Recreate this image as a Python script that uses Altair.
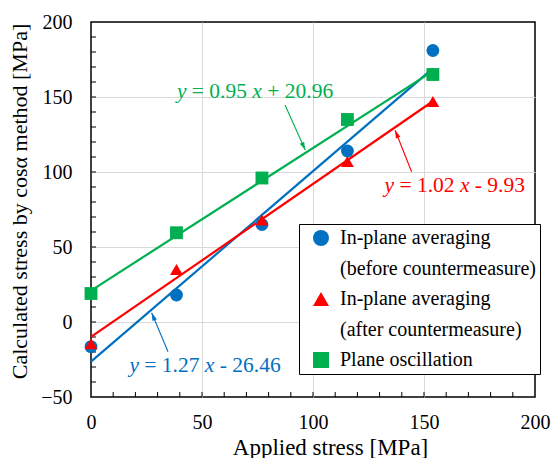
import math

import altair as alt
import pandas as pd

# ---- measured stresses [MPa] ----
applied_stress = [0, 38.5, 77, 115.5, 154]
before_cm = [-16.4, 18, 65, 114, 181]        # in-plane averaging, before countermeasure
after_cm = [-14.5, 35, 68, 107, 147]         # in-plane averaging, after countermeasure
plane_osc = [19, 59.5, 96, 135, 165]         # plane oscillation

series_keys = ["before", "after", "oscillation"]
series_colors = ["#0070C0", "#FF0000", "#00B050"]
series_shapes = ["circle", "triangle-up", "square"]

# linear fits y = a x + b
fit_slope = [1.27, 1.02, 0.95]
fit_intercept = [-26.46, -9.93, 20.96]

# axis ticks
x_ticks = [0, 50, 100, 150, 200]
y_ticks = [-50, 0, 50, 100, 150, 200]
x_minor = list(range(10, 200, 10))
y_minor = list(range(-40, 200, 10))

# legend rows (two of them carry only the second line of a label)
legend_keys = ["before", "before_note", "after", "after_note", "oscillation"]
legend_text = {
    "before": "In-plane averaging",
    "before_note": "\u00a0(before countermeasure)",
    "after": "In-plane averaging",
    "after_note": "\u00a0(after countermeasure)",
    "oscillation": "Plane oscillation",
}
legend_colors = ["#0070C0", "transparent", "#FF0000", "transparent", "#00B050"]
legend_shapes = ["circle", "circle", "triangle-up", "circle", "square"]

# equation labels (left end of text, baseline) and their arrows, per series
eq_anchor_x = [17.3, 132.2, 38.7]
eq_anchor_y = [-33.5, 86.5, 149.3]
arrow_tail_x = [34.7, 144.4, 87.4]
arrow_tail_y = [-19.8, 100.2, 144.7]
arrow_tip_x = [27.3, 137.0, 96.5]
arrow_tip_gap = [-3, -3, 3]   # px between arrow tip and fit line

# ---- layout ----
W, H = 444, 375
X_DOM = [0, 200]
Y_DOM = [-50, 200]
PX_X = W / (X_DOM[1] - X_DOM[0])
PX_Y = H / (Y_DOM[1] - Y_DOM[0])
FONT = "Liberation Serif"
EQ_SIZE = 21.5
TICK_PX = 5

# ---- tables ----
rows = []
for key, vals in zip(series_keys, [before_cm, after_cm, plane_osc]):
    for xv, yv in zip(applied_stress, vals):
        rows.append({"series": key, "applied": xv, "calc": yv})
points_df = pd.DataFrame(rows)

fit_rows = []
for key, a, b in zip(series_keys, fit_slope, fit_intercept):
    for xv in (applied_stress[0], applied_stress[-1]):
        fit_rows.append({"series": key, "x": xv, "y": a * xv + b})
fit_df = pd.DataFrame(fit_rows)

# Times-compatible advance widths (1/1000 em) used to place the equation pieces
REG_W = {" ": 250, "=": 564, "+": 564, "-": 333, ".": 250}


def text_width(s, italic):
    if italic:
        return 444 * len(s) * EQ_SIZE / 1000
    return sum(REG_W.get(c, 500) for c in s) * EQ_SIZE / 1000


eq_rows = []
for key, a, b, ax, ay in zip(series_keys, fit_slope, fit_intercept, eq_anchor_x, eq_anchor_y):
    sign = "+" if b >= 0 else "-"
    pieces = [("y", True), (f"= {a:.2f}", False), ("x", True), (f"{sign} {abs(b):.2f}", False)]
    pos = 0.0
    for txt, ital in pieces:
        eq_rows.append({"series": key, "x": ax + pos / PX_X, "y": ay, "text": txt, "italic": ital})
        pos += text_width(txt, ital) + 250 * EQ_SIZE / 1000
eq_df = pd.DataFrame(eq_rows)

arrow_rows = []
for key, a, b, tx, ty, hx, gap in zip(series_keys, fit_slope, fit_intercept,
                                      arrow_tail_x, arrow_tail_y, arrow_tip_x, arrow_tip_gap):
    hy = a * hx + b + gap / PX_Y
    ang = math.degrees(math.atan2((hx - tx) * PX_X, (hy - ty) * PX_Y)) % 360
    arrow_rows.append({"series": key, "x": tx, "y": ty, "x2": hx, "y2": hy, "angle": ang})
arrow_df = pd.DataFrame(arrow_rows)

xtick_df = pd.DataFrame({"x": x_minor, "y": Y_DOM[0], "y2": Y_DOM[0] + TICK_PX / PX_Y})
ytick_df = pd.DataFrame({"y": y_minor, "x": X_DOM[0], "x2": X_DOM[0] + TICK_PX / PX_X})

# ---- shared encodings ----
axis_text = dict(
    labelFont=FONT, titleFont=FONT, labelColor="black", titleColor="black",
    titleFontWeight="normal", labelFontWeight="normal", gridWidth=1,
)
x_axis = alt.Axis(
    values=x_ticks, title="Applied stress [MPa]", ticks=False, tickSize=0, domain=False,
    labelFlush=False, labelOverlap=False, labelPadding=15, labelFontSize=20,
    titleFontSize=23, titleX=239, titleY=57, titleAlign="center", titleBaseline="alphabetic",
    grid=True,
    gridColor={"condition": {"test": "datum.value <= 0 || datum.value >= 200", "value": "transparent"},
               "value": "#D9D9D9"},
    **axis_text,
)
y_axis = alt.Axis(
    values=y_ticks, title="Calculated stress by cosα method [MPa]", ticks=False, tickSize=0,
    domain=False, labelFlush=False, labelOverlap=False, labelPadding=19, labelFontSize=20,
    titleFontSize=22, titleAngle=270, titleX=-65, titleY=179, titleBaseline="alphabetic",
    titleAlign="center",
    grid=True,
    gridColor={"condition": {"test": "datum.value <= -50 || datum.value >= 200", "value": "transparent"},
               "value": "#D9D9D9"},
    **axis_text,
)
x_scale = alt.Scale(domain=X_DOM, nice=False, zero=False)
y_scale = alt.Scale(domain=Y_DOM, nice=False, zero=False)


def X(field):
    return alt.X(field, type="quantitative", scale=x_scale, axis=x_axis)


def Y(field):
    return alt.Y(field, type="quantitative", scale=y_scale, axis=y_axis)


stroke_enc = alt.Stroke("series:N", scale=alt.Scale(domain=series_keys, range=series_colors), legend=None)
fill_enc = alt.Fill("series:N", scale=alt.Scale(domain=series_keys, range=series_colors), legend=None)

label_expr = " : ".join(
    f"datum.label == '{k}' ? '{v}'" for k, v in legend_text.items()
) + " : datum.label"

legend = alt.Legend(
    title=None, orient="none", direction="vertical", legendX=208, legendY=202,
    fillColor="white", strokeColor="black", padding=4,
    symbolSize=256, symbolStrokeWidth=0, symbolOffset=8, labelOffset=9,
    rowPadding=10.5, labelFont=FONT, labelFontSize=20, labelColor="black",
    labelLimit=400, labelExpr=label_expr,
)

# ---- layers ----
x_minor_ticks = alt.Chart(xtick_df).mark_rule(color="black", strokeWidth=1).encode(
    x=X("x"), y=Y("y"), y2="y2")
y_minor_ticks = alt.Chart(ytick_df).mark_rule(color="black", strokeWidth=1).encode(
    x=X("x"), x2="x2", y=Y("y"))

fit_lines = alt.Chart(fit_df).mark_line(strokeWidth=2.2).encode(
    x=X("x"), y=Y("y"), stroke=stroke_enc, detail="series:N")

points = alt.Chart(points_df).mark_point(filled=True, size=165, opacity=1, strokeWidth=0).encode(
    x=X("applied"), y=Y("calc"),
    color=alt.Color("series:N", scale=alt.Scale(domain=legend_keys, range=legend_colors), legend=legend),
    shape=alt.Shape("series:N", scale=alt.Scale(domain=legend_keys, range=legend_shapes), legend=legend),
)

arrow_shafts = alt.Chart(arrow_df).mark_rule(strokeWidth=1.1).encode(
    x=X("x"), y=Y("y"), x2="x2", y2="y2", stroke=stroke_enc)
arrow_heads = alt.Chart(arrow_df).mark_point(
    shape="M0,0L0.3,1L-0.3,1Z", size=256, filled=True, opacity=1, strokeWidth=0
).encode(x=X("x2"), y=Y("y2"), fill=fill_enc, angle=alt.Angle("angle:Q", scale=None))

eq_regular = alt.Chart(eq_df).transform_filter("!datum.italic").mark_text(
    font=FONT, fontSize=EQ_SIZE, align="left", baseline="alphabetic"
).encode(x=X("x"), y=Y("y"), text="text:N", fill=fill_enc)
eq_italic = alt.Chart(eq_df).transform_filter("datum.italic").mark_text(
    font=FONT, fontSize=EQ_SIZE, fontStyle="italic", align="left", baseline="alphabetic"
).encode(x=X("x"), y=Y("y"), text="text:N", fill=fill_enc)

chart = alt.layer(
    x_minor_ticks, y_minor_ticks, fit_lines, arrow_shafts, arrow_heads,
    eq_regular, eq_italic, points,
).properties(
    width=W, height=H, background="white",
    padding={"left": 91, "top": 22, "right": 18, "bottom": 61},
    autosize=alt.AutoSizeParams(type="none"),
).configure_view(
    stroke="black", strokeWidth=1.5,
).configure_axis(
    **axis_text,
)

chart.save("out.html", embed_options={"renderer": "svg", "actions": False})
